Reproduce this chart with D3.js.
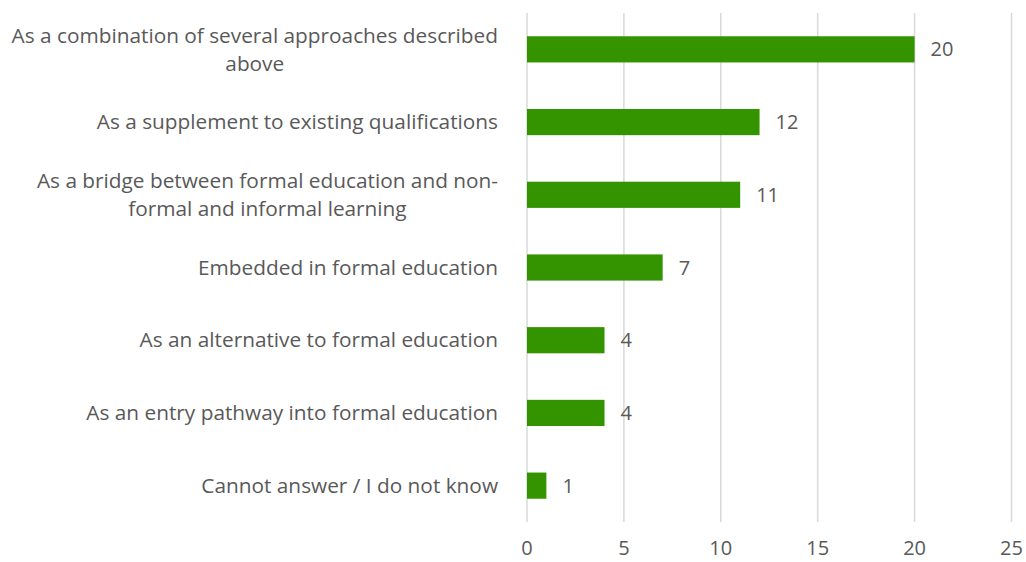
<!DOCTYPE html>
<html>
<head>
<meta charset="utf-8">
<script src="https://cdn.jsdelivr.net/npm/d3@7"></script>
<style>
  body { margin: 0; background: #ffffff; }
  text { font-family: "Open Sans", "Noto Sans", sans-serif; fill: #595959; }
</style>
</head>
<body>
<div id="grafico"></div>
<script>
const ANCHO = 1026;
const ALTO = 562;

// categorias de arriba hacia abajo, cada una partida en lineas como en el original
const categorias = [
    ["As a combination of several approaches described", "above"],
    ["As a supplement to existing qualifications"],
    ["As a bridge between formal education and non-", "formal and informal learning"],
    ["Embedded in formal education"],
    ["As an alternative to formal education"],
    ["As an entry pathway into formal education"],
    ["Cannot answer / I do not know"]
];
const valores = [20, 12, 11, 7, 4, 4, 1];
const marcasX = [0, 5, 10, 15, 20, 25];

const COLOR_BARRA = "#339400";
const COLOR_REJILLA = "#d9d9d9";

const margen = {izq: 527, der: 15, arriba: 13, abajo: 40};

const $svg = d3.select("#grafico")
    .append("svg")
    .attr("width", ANCHO)
    .attr("height", ALTO);

const x = d3.scaleLinear()
    .domain([0, 25])
    .range([margen.izq, 1011.5]);

const y = d3.scaleBand()
    .domain(d3.range(categorias.length))
    .range([margen.arriba, ALTO - margen.abajo])
    .paddingInner(0.64)
    .paddingOuter(0.32);

// lineas verticales de la rejilla
$svg.append("g")
    .selectAll("line")
    .data(marcasX)
    .join("line")
    .attr("x1", d => x(d))
    .attr("x2", d => x(d))
    .attr("y1", margen.arriba)
    .attr("y2", ALTO - margen.abajo)
    .attr("stroke", COLOR_REJILLA)
    .attr("stroke-width", 1.5);

// barras
$svg.append("g")
    .selectAll("rect")
    .data(valores)
    .join("rect")
    .attr("x", x(0))
    .attr("y", (d, i) => y(i))
    .attr("width", d => x(d) - x(0))
    .attr("height", y.bandwidth())
    .attr("fill", COLOR_BARRA);

// etiquetas de valor
$svg.append("g")
    .selectAll("text")
    .data(valores)
    .join("text")
    .attr("x", d => x(d) + 16)
    .attr("y", (d, i) => y(i) + y.bandwidth() / 2)
    .attr("dy", "0.35em")
    .attr("font-size", 20)
    .text(d => d);

// etiquetas del eje x
$svg.append("g")
    .selectAll("text")
    .data(marcasX)
    .join("text")
    .attr("x", d => x(d))
    .attr("y", 555)
    .attr("text-anchor", "middle")
    .attr("font-size", 20)
    .text(d => d);

// etiquetas de categoria: alineadas a la derecha, lineas centradas entre si
const BORDE_ETIQUETAS = 498;
const INTERLINEA = 28;
categorias.forEach((lineas, i) => {
    const g = $svg.append("g");
    const centroY = y(i) + y.bandwidth() / 2;
    const textos = lineas.map((linea, k) => g.append("text")
        .attr("font-size", 20.8)
        .attr("dy", "0.35em")
        .attr("y", centroY + (k - (lineas.length - 1) / 2) * INTERLINEA)
        .text(linea));
    const anchoMax = d3.max(textos, t => t.node().getComputedTextLength());
    textos.forEach(t => t
        .attr("text-anchor", "middle")
        .attr("x", BORDE_ETIQUETAS - anchoMax / 2));
});
</script>
</body>
</html>
